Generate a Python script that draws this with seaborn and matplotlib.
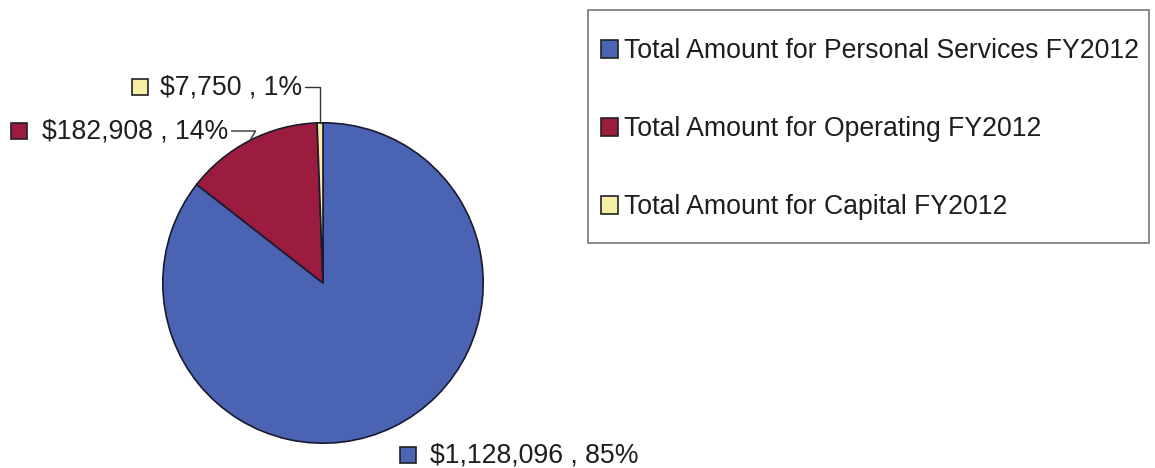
import matplotlib
matplotlib.use("Agg")
import matplotlib.pyplot as plt
from matplotlib.patches import Rectangle
import numpy as np
import seaborn as sns

# FY2012 budget split
categories = [
    "Total Amount for Personal Services FY2012",
    "Total Amount for Operating FY2012",
    "Total Amount for Capital FY2012",
]
amounts = [1128096, 182908, 7750]
percent_labels = ["85%", "14%", "1%"]

sns.set_theme(style="white")
plt.rcParams["font.family"] = ["Liberation Sans", "DejaVu Sans"]

colors = sns.color_palette(["#4b63b3", "#9c1c40", "#f6f0a6"])
text_color = "#1e1e1e"
FS = 19.2

W, H = 1155, 468
fig = plt.figure(figsize=(W / 100, H / 100), dpi=100)


def fx(x):
    return x / W


def fy(y):
    return 1 - y / H


# pie axes: centre (323, 283), radius 161 px
cx, cy, R = 323, 283, 161
ax = fig.add_axes([fx(cx - R), fy(cy + R), 2 * R / W, 2 * R / H])
wedges, _ = ax.pie(
    amounts,
    colors=colors,
    startangle=90,
    counterclock=False,
    wedgeprops=dict(edgecolor="#1a1a2e", linewidth=1.2),
)
ax.set_xlim(-1.005, 1.005)
ax.set_ylim(-1.005, 1.005)
ax.set_aspect("equal")
ax.axis("off")


def fmt_label(v, p):
    return f"${v:,} , {p}"


def edge_point(w, r=1.0):
    ang = np.deg2rad((w.theta1 + w.theta2) / 2)
    return r * np.cos(ang), r * np.sin(ang)


# label layout: (text left x, text centre y, key square left x)
label_pos = [(430, 455, 400), (42, 131, 11), (160, 87, 132)]
conn = [None, "angle,angleA=0,angleB=60,rad=0", "angle,angleA=0,angleB=90,rad=0"]
key = 16

for i, (w, v, p) in enumerate(zip(wedges, amounts, percent_labels)):
    tx, ty, kx = label_pos[i]
    kw = dict(
        xycoords="data",
        textcoords="figure fraction",
        ha="left",
        va="center",
        fontsize=FS,
        color=text_color,
    )
    if conn[i] is not None:
        kw["arrowprops"] = dict(
            arrowstyle="-",
            color="#333333",
            lw=1.0,
            connectionstyle=conn[i],
            relpos=(1, 0.5),
            shrinkA=0,
            shrinkB=0,
        )
    ax.annotate(fmt_label(v, p), xy=edge_point(w), xytext=(fx(tx), fy(ty)), **kw)
    fig.add_artist(
        Rectangle(
            (fx(kx), fy(ty + key / 2)),
            key / W,
            key / H,
            transform=fig.transFigure,
            facecolor=colors[i],
            edgecolor="#222222",
            linewidth=1.2,
        )
    )

# legend box
fig.add_artist(
    Rectangle(
        (fx(588), fy(243)),
        (1149 - 588) / W,
        (243 - 10) / H,
        transform=fig.transFigure,
        facecolor="white",
        edgecolor="#777777",
        linewidth=1.2,
        zorder=0,
    )
)
leg = fig.legend(
    wedges,
    categories,
    loc="center left",
    bbox_to_anchor=(fx(601), fy(129)),
    frameon=False,
    fontsize=FS,
    handlelength=0.65,
    handleheight=0.65,
    handletextpad=0.2,
    labelspacing=1.95,
    borderpad=0,
    borderaxespad=0,
)
for t in leg.get_texts():
    t.set_color(text_color)
for h in leg.legend_handles:
    h.set_edgecolor("#222222")
    h.set_linewidth(1.2)

fig.savefig("out.png", dpi=100, facecolor="white")
